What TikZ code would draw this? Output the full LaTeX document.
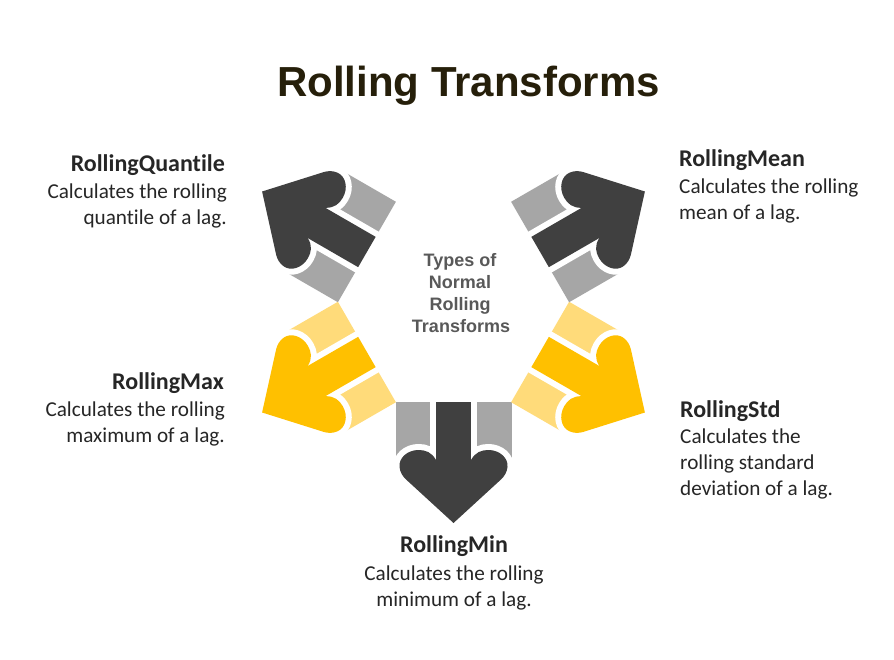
\documentclass[tikz,border=0pt]{standalone}
\usepackage{fontspec}
\setmainfont{Carlito}[Ligatures=CommonOff]
\newfontfamily\arialf{Liberation Sans}
\definecolor{darkc}{HTML}{404040}
\definecolor{grayc}{HTML}{A6A6A6}
\definecolor{yelc}{HTML}{FFC000}
\definecolor{lyelc}{HTML}{FFDB7A}
\definecolor{txt}{HTML}{262626}
\definecolor{midtxt}{HTML}{595959}
\definecolor{ttlc}{HTML}{261F0A}
\newcommand\headpath{(-17.5,58) .. controls (-22,50) and (-28,48) .. (-35,48) .. controls (-46,48) and (-55,56) .. (-54,65) .. controls (-53.5,70) and (-51,74) .. (-48,77) -- (0,121) -- (48,77) .. controls (51,74) and (53.5,70) .. (54,65) .. controls (55,56) and (46,48) .. (35,48) .. controls (28,48) and (22,50) .. (17.5,58) -- cycle}
\newcommand\arrowunit[3]{%
  \begin{scope}[shift={({453.5+100*cos(#1)},{302-100*sin(#1)})}, rotate={#1+90}]
    \fill[#3] (-58,0) rectangle (58,62);
    \draw[white, line width=12pt, line join=round] (-17.5,0) rectangle (17.5,60);
    \draw[white, line width=12pt, line join=round] \headpath;
    \fill[#2] (-17.5,0) rectangle (17.5,60);
    \fill[#2] \headpath;
  \end{scope}}
\tikzset{
  lbl/.style={font=\fontsize{24}{28}\selectfont\bfseries, text=txt, inner sep=0pt},
  dsc/.style={font=\fontsize{21.2}{26}\selectfont, text=txt, inner sep=0pt},
  mid/.style={font=\arialf\fontsize{18}{22}\selectfont\bfseries, text=midtxt, inner sep=0pt, anchor=base},
  ttl/.style={font=\arialf\fontsize{42}{48}\selectfont\bfseries, inner sep=0pt, anchor=base}
}
\begin{document}
\begin{tikzpicture}[x=1pt,y=-1pt]
\useasboundingbox (0,0) rectangle (894,660);
\fill[white] (0,0) rectangle (894,660);
\node[ttl, text=ttlc] (title) at (468.5,97) {Rolling Transforms};
% arrow units
\arrowunit{-90}{darkc}{grayc}
\arrowunit{-30}{yelc}{lyelc}
\arrowunit{30}{darkc}{grayc}
\arrowunit{150}{darkc}{grayc}
\arrowunit{210}{yelc}{lyelc}
% centre text
\node[mid] (c1) at (460,266.5) {Types of};
\node[mid] (c2) at (460,288.5) {Normal};
\node[mid] (c3) at (460,310.5) {Rolling};
\node[mid] (c4) at (461,332.5) {Transforms};
% RollingQuantile
\node[lbl, anchor=base east] (q0) at (225,172) {RollingQuantile};
\node[dsc, anchor=base east] (q1) at (227,199) {Calculates the rolling};
\node[dsc, anchor=base east] (q2) at (227,225) {quantile of a lag.};
% RollingMean
\node[lbl, anchor=base west] (m0) at (679,167) {RollingMean};
\node[dsc, anchor=base west] (m1) at (679,194) {Calculates the rolling};
\node[dsc, anchor=base west] (m2) at (679,220) {mean of a lag.};
% RollingMax
\node[lbl, anchor=base east] (x0) at (224,389) {RollingMax};
\node[dsc, anchor=base east] (x1) at (225,416) {Calculates the rolling};
\node[dsc, anchor=base east] (x2) at (225,442) {maximum of a lag.};
% RollingStd
\node[lbl, anchor=base west] (s0) at (680,417) {RollingStd};
\node[dsc, anchor=base west] (s1) at (680,443) {Calculates the};
\node[dsc, anchor=base west] (s2) at (680,469) {rolling standard};
\node[dsc, anchor=base west] (s3) at (680,495) {deviation of a lag.};
% RollingMin
\node[lbl, anchor=base] (n0) at (454,552) {RollingMin};
\node[dsc, anchor=base] (n1) at (454,580) {Calculates the rolling};
\node[dsc, anchor=base] (n2) at (454,606) {minimum of a lag.};
\end{tikzpicture}
\end{document}
